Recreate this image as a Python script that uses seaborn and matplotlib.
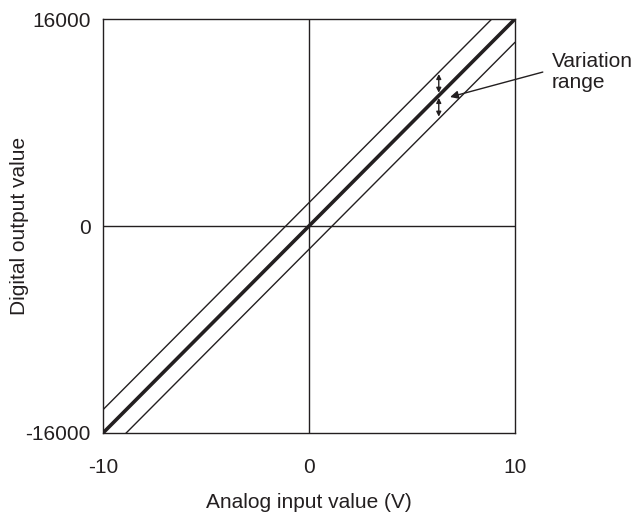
import numpy as np
import pandas as pd
import matplotlib
matplotlib.use("Agg")
import matplotlib.pyplot as plt
import seaborn as sns

# analog input (V) and digital output values
x_volts = [-10, 10]
main_out = [-16000, 16000]
upper_out = [-14200, 17800]
lower_out = [-17800, 14200]

x_ticks = [-10, 0, 10]
y_ticks = [-16000, 0, 16000]

# double arrows marking the variation range
arrow_x = 6.3
upper_arrow = [11750, 10300]
lower_arrow = [9900, 8450]

note_text = "Variation\nrange"
note_xy = (11.8, 11900)
note_tail = (11.35, 11900)
note_head = (6.85, 9970)

ink = "#231f20"

sns.set_theme(style="white")
plt.rcParams['font.family'] = ['Liberation Sans', 'DejaVu Sans']

fig = plt.figure(figsize=(6.35, 5.14), dpi=100)
ax = fig.add_axes([0.1622, 0.1576, 0.6488, 0.8054])

df = pd.DataFrame({"x": x_volts, "main": main_out, "upper": upper_out, "lower": lower_out})
sns.lineplot(data=df, x="x", y="upper", ax=ax, color=ink, lw=1.0)
sns.lineplot(data=df, x="x", y="lower", ax=ax, color=ink, lw=1.0)
sns.lineplot(data=df, x="x", y="main", ax=ax, color=ink, lw=2.6)

ax.axhline(0, color=ink, lw=1.0, zorder=1)
ax.axvline(0, color=ink, lw=1.0, zorder=1)

ax.set_xlim(-10, 10)
ax.set_ylim(-16000, 16000)
ax.set_xticks(x_ticks)
ax.set_yticks(y_ticks)
ax.set_xticklabels([str(v) for v in x_ticks])
ax.set_yticklabels([str(v) for v in y_ticks])
ax.tick_params(axis="x", length=0, pad=18, labelsize=15, colors=ink)
ax.tick_params(axis="y", length=0, pad=9, labelsize=15, colors=ink)

for s in ax.spines.values():
    s.set_color(ink)
    s.set_linewidth(1.0)

ax.set_xlabel("Analog input value (V)", fontsize=15, color=ink)
ax.set_ylabel("Digital output value", fontsize=15, color=ink)
ax.xaxis.set_label_coords(0.5, -0.145)
ax.yaxis.set_label_coords(-0.18, 0.5)

for y0, y1 in (upper_arrow, lower_arrow):
    ax.annotate("", xy=(arrow_x, y1), xytext=(arrow_x, y0),
                arrowprops=dict(arrowstyle="<|-|>", color=ink, lw=1.0,
                                mutation_scale=7, shrinkA=0, shrinkB=0))

ax.annotate("", xy=note_head, xytext=note_tail, annotation_clip=False,
            arrowprops=dict(arrowstyle="-|>", color=ink, lw=1.0,
                            mutation_scale=12, shrinkA=0, shrinkB=0))
ax.text(note_xy[0], note_xy[1], note_text, fontsize=15, color=ink,
        ha="left", va="center", linespacing=1.1, clip_on=False)

fig.savefig("out.png", dpi=100)
